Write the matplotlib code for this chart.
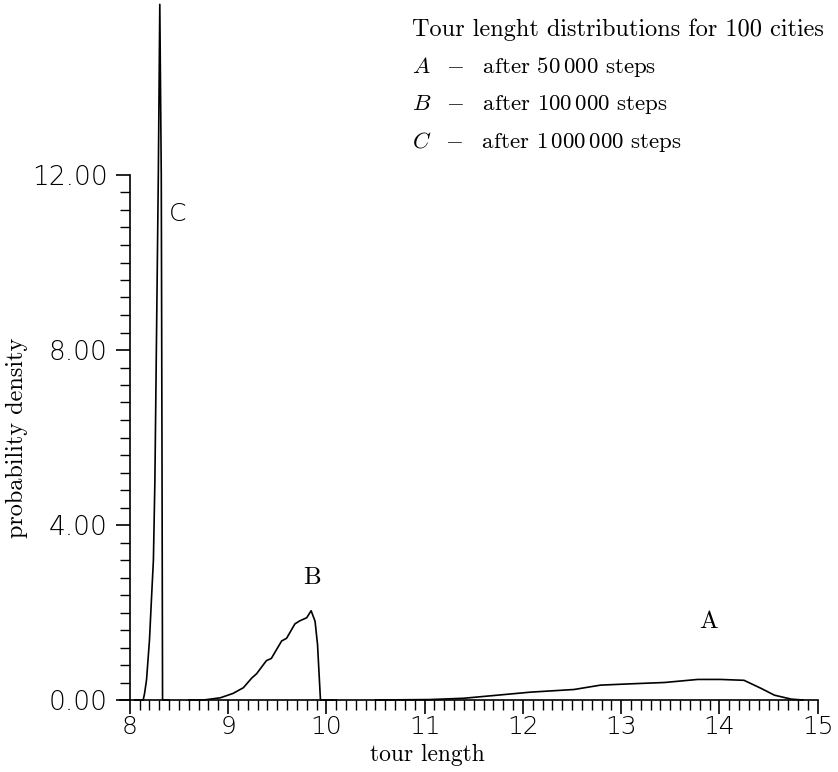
import numpy as np
import matplotlib
matplotlib.use("Agg")
import matplotlib.pyplot as plt
from matplotlib.ticker import FixedLocator, FormatStrFormatter

plt.rcParams['mathtext.fontset'] = 'cm'

# ---- data ----
xa = [10.50, 11.05, 11.40, 11.74, 12.08, 12.52, 12.79, 13.10, 13.44, 13.78, 14.01, 14.25, 14.42, 14.56, 14.73, 14.85]
ya = [0.00, 0.01, 0.04, 0.11, 0.18, 0.24, 0.34, 0.37, 0.40, 0.47, 0.47, 0.45, 0.27, 0.11, 0.02, 0.00]

xb = [8.60, 8.75, 8.92, 9.05, 9.155, 9.24, 9.29, 9.39, 9.44, 9.545, 9.595, 9.68, 9.73, 9.80, 9.845, 9.885, 9.91, 9.94, 10.10]
yb = [0.00, 0.00, 0.05, 0.15, 0.28, 0.50, 0.60, 0.90, 0.95, 1.35, 1.41, 1.74, 1.81, 1.88, 2.04, 1.80, 1.27, 0.00, 0.00]

xc = [8.05, 8.136, 8.15, 8.17, 8.20, 8.22, 8.24, 8.255, 8.27, 8.29, 8.305, 8.32, 8.327, 8.333, 8.40]
yc = [0.00, 0.00, 0.15, 0.46, 1.37, 2.30, 3.20, 5.00, 8.00, 12.0, 15.9, 12.0, 6.00, 0.00, 0.00]

curve_labels = ['A', 'B', 'C']
legend_title = 'Tour lenght distributions for 100 cities'
legend_lines = [r'$A\ \ -\ $ after 50$\,$000 steps',
                r'$B\ \ -\ $ after 100$\,$000 steps',
                r'$C\ \ -\ $ after 1$\,$000$\,$000 steps']
xticks = [8, 9, 10, 11, 12, 13, 14, 15]
yticks = [0, 4, 8, 12]

W, H = 838, 772
fig = plt.figure(figsize=(W / 100, H / 100), dpi=100)
ax_l, ax_r, ax_b, ax_t = 120, 817.7, 700, 175
ax = fig.add_axes([ax_l / W, 1 - ax_b / H, (ax_r - ax_l) / W, (ax_b - ax_t) / H])
aw, ah = ax_r - ax_l, ax_b - ax_t

lw = 1.2
ax.plot(xa, ya, color='black', lw=lw, clip_on=False)
ax.plot(xb, yb, color='black', lw=lw, clip_on=False)
ax.plot(xc, yc, color='black', lw=lw, clip_on=False)

ax.set_xlim(7.9, 15.0)
ax.set_ylim(0, 12)

for s in ['top', 'right']:
    ax.spines[s].set_visible(False)
ax.spines['left'].set_position(('data', 8))
ax.spines['left'].set_linewidth(1.2)
ax.spines['bottom'].set_linewidth(1.2)

ax.xaxis.set_major_locator(FixedLocator(xticks))
ax.xaxis.set_minor_locator(FixedLocator(np.arange(8, 15.001, 0.1)))
ax.yaxis.set_major_locator(FixedLocator(yticks))
ax.yaxis.set_minor_locator(FixedLocator(np.arange(0, 12.001, 0.4)))
ax.yaxis.set_major_formatter(FormatStrFormatter('%.2f'))

ax.tick_params(axis='both', which='major', length=10, width=1.2, direction='out', color='black')
ax.tick_params(axis='both', which='minor', length=7, width=1.0, direction='out', color='black')
ax.tick_params(axis='x', which='major', labelsize=18, pad=1)
ax.tick_params(axis='y', which='major', labelsize=19, pad=6)
for lab in ax.get_xticklabels() + ax.get_yticklabels():
    lab.set_fontweight('light')

serif = ['cmr10', 'DejaVu Serif']
ax.set_xlabel('tour length', fontsize=17, family=serif)
ax.set_ylabel('probability density', fontsize=17.5, family=serif)
ax.xaxis.set_label_coords((427.5 - ax_l) / aw, -(744 - ax_b) / ah)
ax.yaxis.set_label_coords((28 - ax_l) / aw, 0.5)

# curve labels
ax.text(13.89, 1.78, curve_labels[0], fontsize=18, family=serif, ha='center', va='center')
ax.text(9.855, 2.80, curve_labels[1], fontsize=18, family=serif, ha='center', va='center')
ax.text(8.49, 11.1, curve_labels[2], fontsize=18, family='DejaVu Sans', fontweight='light', ha='center', va='center')

# legend-like text block
lx = 411.7 / W
ys = [30, 67, 104, 142]
fig.text(lx, 1 - ys[0] / H, legend_title, fontsize=17.5, family=serif, ha='left', va='center')
for i, t in enumerate(legend_lines):
    fig.text(lx, 1 - ys[i + 1] / H, t, fontsize=16.5, family=serif, ha='left', va='center')

fig.savefig('out.png', dpi=100)
